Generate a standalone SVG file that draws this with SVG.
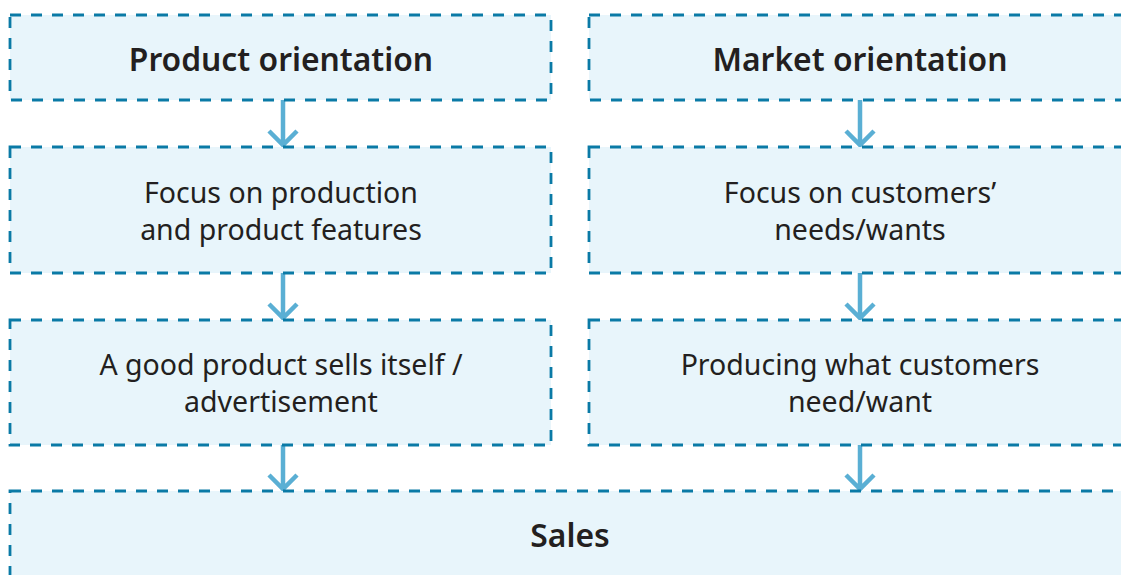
<svg xmlns="http://www.w3.org/2000/svg" width="1121" height="575" viewBox="0 0 1121 575">
<defs>
<style>
.box{fill:#e8f5fb;stroke:#0a7aa6;stroke-width:2.8;stroke-dasharray:11 10}
.title{font-family:"Noto Sans","Open Sans",sans-serif;font-weight:600;font-size:31.8px;fill:#231f20;text-anchor:middle}
.body{font-family:"Noto Sans","Open Sans",sans-serif;font-weight:400;font-size:28.5px;fill:#231f20;text-anchor:middle}
.arrow{fill:none;stroke:#5aafd4;stroke-width:4.5}
</style>
</defs>
<rect width="1121" height="575" fill="#ffffff"/>
<g id="connectors">
<path class="arrow" d="M283 100V146M269 131L283 145L297 131"/>
<path class="arrow" d="M860 100V146M846 131L860 145L874 131"/>
<path class="arrow" d="M283 273V319M269 304L283 318L297 304"/>
<path class="arrow" d="M860 273V319M846 304L860 318L874 304"/>
<path class="arrow" d="M283 445V490M269 475L283 489L297 475"/>
<path class="arrow" d="M860 445V490M846 475L860 489L874 475"/>
</g>
<g id="product-orientation">
<rect class="box" x="10" y="15" width="541" height="85"/>
<text class="title" x="281" y="71">Product orientation</text>
</g>
<g id="market-orientation">
<rect class="box" x="589" y="15" width="541" height="85"/>
<text class="title" x="860" y="71">Market orientation</text>
</g>
<g id="focus-production">
<rect class="box" x="10" y="147" width="541" height="126"/>
<text class="body" x="281" y="203">Focus on production</text>
<text class="body" x="281" y="240">and product features</text>
</g>
<g id="focus-customers">
<rect class="box" x="589" y="147" width="541" height="126"/>
<text class="body" x="860" y="203">Focus on customers’</text>
<text class="body" x="860" y="240">needs/wants</text>
</g>
<g id="good-product">
<rect class="box" x="10" y="320" width="541" height="125"/>
<text class="body" x="281" y="375">A good product sells itself /</text>
<text class="body" x="281" y="412">advertisement</text>
</g>
<g id="producing-what">
<rect class="box" x="589" y="320" width="541" height="125"/>
<text class="body" x="860" y="375">Producing what customers</text>
<text class="body" x="860" y="412">need/want</text>
</g>
<g id="sales">
<rect class="box" x="10" y="491" width="1120" height="120"/>
<text class="title" x="570" y="547">Sales</text>
</g>
</svg>
